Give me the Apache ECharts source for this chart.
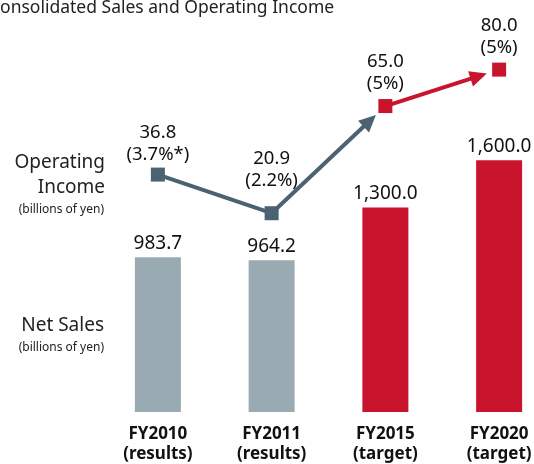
<!DOCTYPE html>
<html>
<head>
<meta charset="utf-8">
<script src="https://cdn.jsdelivr.net/npm/echarts@6/dist/echarts.min.js"></script>
<style>
  html, body { margin: 0; padding: 0; background: #fff; }
  #chart { width: 534px; height: 464px; }
</style>
</head>
<body>
<div id="chart"></div>
<script>
// data
const categories = ['FY2010\n(results)', 'FY2011\n(results)', 'FY2015\n(target)', 'FY2020\n(target)'];
const kinds = ['results', 'results', 'target', 'target'];
const netSales = [983.7, 964.2, 1300.0, 1600.0];
const opIncome = [36.8, 20.9, 65.0, 80.0];
const opMargin = ['3.7%*', '2.2%', '5%', '5%'];
// line segments between years: [from, to, hasArrow]
const segments = [[0, 1, 0], [1, 2, 1], [2, 3, 1]];

const FONT = 'Noto Sans';
const GREY_BAR = '#9aaab3';
const GREY_LINE = '#4b6272';
const RED = '#c8142c';

const colorOf = (i, grey) => kinds[i] === 'target' ? RED : grey;

const chart = echarts.init(document.getElementById('chart'));

chart.setOption({
  animation: false,
  title: {
    text: 'Consolidated Sales and Operating Income',
    left: -11,
    top: -1,
    padding: 0,
    textStyle: { fontFamily: FONT, fontSize: 17.5, fontWeight: 'normal', color: '#222' }
  },
  grid: { left: 101, width: 455, top: 50, bottom: 52, outerBoundsMode: 'none', containLabel: false },
  xAxis: {
    type: 'category',
    data: categories,
    axisLine: { show: false },
    axisTick: { show: false },
    axisLabel: {
      margin: 12,
      fontFamily: FONT, fontSize: 17, fontWeight: 'bold', color: '#111', lineHeight: 20
    }
  },
  yAxis: [
    { type: 'value', min: 0, max: 2300, show: false, splitLine: { show: false } },
    { type: 'value', min: -60.9, max: 88.07, show: false, splitLine: { show: false } }
  ],
  graphic: [
    { type: 'text', right: 429, top: 150, style: { text: 'Operating\nIncome', font: '19px "Noto Sans"', fill: '#222', textAlign: 'right', lineHeight: 25 } },
    { type: 'text', right: 430, top: 204, style: { text: '(billions of yen)', font: '12px "Noto Sans"', fill: '#222', textAlign: 'right' } },
    { type: 'text', right: 430, top: 316, style: { text: 'Net Sales', font: '19px "Noto Sans"', fill: '#222', textAlign: 'right' } },
    { type: 'text', right: 430, top: 342, style: { text: '(billions of yen)', font: '12px "Noto Sans"', fill: '#222', textAlign: 'right' } }
  ],
  series: [
    {
      type: 'bar',
      yAxisIndex: 0,
      barWidth: 46,
      data: netSales.map((v, i) => ({ value: v, itemStyle: { color: colorOf(i, GREY_BAR) } })),
      label: {
        show: true,
        position: 'top',
        distance: 4,
        fontFamily: FONT, fontSize: 19, color: '#111',
        formatter: p => p.value.toLocaleString('en-US', { minimumFractionDigits: 1, maximumFractionDigits: 1 })
      }
    },
    {
      type: 'custom',
      yAxisIndex: 1,
      z: 3,
      data: segments,
      renderItem: (params, api) => {
        const from = api.value(0), to = api.value(1);
        const a = api.coord([from, opIncome[from]]);
        const b = api.coord([to, opIncome[to]]);
        const arrow = api.value(2) === 1;
        const color = colorOf(from, GREY_LINE);
        if (!arrow) {
          return { type: 'line', shape: { x1: a[0], y1: a[1], x2: b[0], y2: b[1] }, style: { stroke: color, lineWidth: 4 } };
        }
        const dx = b[0] - a[0], dy = b[1] - a[1];
        const len = Math.sqrt(dx * dx + dy * dy);
        const ux = dx / len, uy = dy / len;
        const tip = [b[0] - ux * 13, b[1] - uy * 13];
        const headLen = 17, headW = 8;
        const base = [tip[0] - ux * headLen, tip[1] - uy * headLen];
        return {
          type: 'group',
          children: [
            { type: 'line', shape: { x1: a[0], y1: a[1], x2: base[0] + ux * 2, y2: base[1] + uy * 2 }, style: { stroke: color, lineWidth: 4 } },
            { type: 'polygon', shape: { points: [tip, [base[0] - uy * headW, base[1] + ux * headW], [base[0] + uy * headW, base[1] - ux * headW]] }, style: { fill: color } }
          ]
        };
      }
    },
    {
      type: 'scatter',
      yAxisIndex: 1,
      z: 4,
      symbol: 'rect',
      symbolSize: 14,
      itemStyle: { opacity: 1 },
      data: opIncome.map((v, i) => ({
        value: v,
        itemStyle: { color: colorOf(i, GREY_LINE), opacity: 1 },
        label: { distance: i === 1 ? 14 : (i === 0 ? 2 : 4) }
      })),
      label: {
        show: true,
        position: 'top',
        fontFamily: FONT, fontSize: 18.5, color: '#111', lineHeight: 22, align: 'center',
        formatter: p => p.value.toFixed(1) + '\n(' + opMargin[p.dataIndex] + ')'
      }
    }
  ]
});
</script>
</body>
</html>
